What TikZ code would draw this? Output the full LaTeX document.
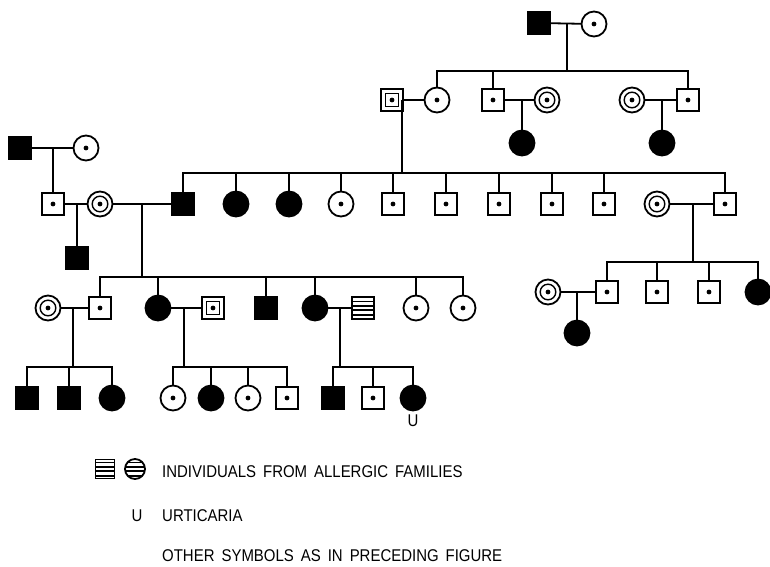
\documentclass[tikz,border=0pt]{standalone}
\usepackage{fontspec}
\setmainfont{Liberation Sans}
\newfontfamily\lett[FakeStretch=0.88]{Liberation Sans}
\begin{document}
\begin{tikzpicture}[x=1pt,y=-1pt,
  ln/.style={line width=1.8pt},
  base/.style={draw, line width=1.8pt, inner sep=0pt, outer sep=0pt},
  msq/.style={base, rectangle, minimum size=22pt},
  fsq/.style={msq, fill=black},
  fci/.style={base, circle, minimum size=25pt, fill=black},
  dsq/.style={msq, path picture={\fill (path picture bounding box.center) circle (2.4pt);}},
  dci/.style={base, circle, minimum size=25pt, path picture={\fill (path picture bounding box.center) circle (2.4pt);}},
  dbl/.style={base, circle, minimum size=25pt, path picture={
      \draw[line width=1.4pt] (path picture bounding box.center) circle (7.8pt);
      \fill (path picture bounding box.center) circle (2.4pt);}},
  sqsq/.style={msq, path picture={
      \draw[line width=1.5pt] ([shift={(-6.5pt,-6.5pt)}]path picture bounding box.center) rectangle ([shift={(6.5pt,6.5pt)}]path picture bounding box.center);
      \fill (path picture bounding box.center) circle (2.4pt);}},
  strsq/.style={msq, path picture={
      \foreach \k in {-6.6,-2.2,2.2,6.6}{\draw[line width=1.8pt] ([shift={(-15pt,\k pt)}]path picture bounding box.center) -- ++(30pt,0pt);}}},
  strci/.style={base, circle, minimum size=19pt, path picture={
      \foreach \k in {-6.6,-2.2,2.2,6.6}{\draw[line width=1.8pt] ([shift={(-15pt,\k pt)}]path picture bounding box.center) -- ++(30pt,0pt);}}},
  txt/.style={font=\lett\fontsize{17}{17}\selectfont, inner sep=0pt},
  lbl/.style={txt, anchor=west}
]
\useasboundingbox (0,0) rectangle (770,566);

% Generation I (top right)
\node[fsq] (a1) at (539,23) {};
\node[dci] (a2) at (594,24) {};
\draw[ln] (a1) -- (a2);
\coordinate (a12) at (567,24);
\coordinate (ba) at (567,71);
\draw[ln] (a12) -- (ba);

% Generation II (top right)
\node[sqsq] (b1) at (392,100) {};
\node[dci] (b2) at (437,100) {};
\node[dsq] (b3) at (493,100) {};
\node[dbl] (b4) at (547,100) {};
\node[dbl] (b5) at (632,100) {};
\node[dsq] (b6) at (688,100) {};
\draw[ln] (b2.north) |- (ba) -| (b6.north);
\draw[ln] (b3.north) -- (b3.north |- ba);
\draw[ln] (b1) -- (b2);
\draw[ln] (b3) -- (b4);
\draw[ln] (b5) -- (b6);
\coordinate (b34) at (522,100);
\coordinate (b56) at (662,100);
\node[fci] (c34) at (522,143) {};
\node[fci] (c56) at (662,143) {};
\draw[ln] (b34) -- (c34);
\draw[ln] (b56) -- (c56);
\coordinate (b12) at (402,100);
\coordinate (bm) at (402,173);
\draw[ln] (b12) -- (bm);

% Left top
\node[fsq] (l1) at (20,148) {};
\node[dci] (l2) at (86,148) {};
\draw[ln] (l1) -- (l2);
\coordinate (l12) at (53,148);
\node[dsq] (l3) at (53,204) {};
\draw[ln] (l12) -- (l3);
\node[dbl] (l4) at (100,204) {};
\draw[ln] (l3) -- (l4);
\coordinate (l34) at (77,204);
\node[fsq] (l5) at (77,258) {};
\draw[ln] (l34) -- (l5);

% Generation III sibship
\node[fsq] (m1) at (183,204) {};
\node[fci] (m2) at (236,204) {};
\node[fci] (m3) at (289,204) {};
\node[dci] (m4) at (341,204) {};
\node[dsq] (m5) at (393,204) {};
\node[dsq] (m6) at (446,204) {};
\node[dsq] (m7) at (499,204) {};
\node[dsq] (m8) at (552,204) {};
\node[dsq] (m9) at (604,204) {};
\node[dbl] (r1) at (657,204) {};
\node[dsq] (r2) at (725,204) {};
\draw[ln] (m1.north) |- (bm) -| (r2.north);
\foreach \n in {m2,m3,m4,m5,m6,m7,m8,m9}{\draw[ln] (\n.north) -- (\n.north |- bm);}
\draw[ln] (l4) -- (m1);
\draw[ln] (r1) -- (r2);

% Right branch
\coordinate (r12) at (693,204);
\coordinate (rb) at (693,262);
\draw[ln] (r12) -- (rb);
\node[dbl] (s0) at (548,292) {};
\node[dsq] (s1) at (607,292) {};
\node[dsq] (s2) at (657,292) {};
\node[dsq] (s3) at (709,292) {};
\node[fci] (s4) at (758,292) {};
\draw[ln] (s1.north) |- (rb) -| (s4.north);
\draw[ln] (s2.north) -- (s2.north |- rb);
\draw[ln] (s3.north) -- (s3.north |- rb);
\draw[ln] (s0) -- (s1);
\coordinate (s01) at (577,292);
\node[fci] (s5) at (577,333) {};
\draw[ln] (s01) -- (s5);

% Left branch Generation IV
\coordinate (l4m) at (142,204);
\coordinate (pb) at (142,277);
\draw[ln] (l4m) -- (pb);
\node[dbl] (p1) at (48,308) {};
\node[dsq] (p2) at (100,308) {};
\node[fci] (p3) at (158,308) {};
\node[sqsq] (p4) at (213,308) {};
\node[fsq] (p5) at (266,308) {};
\node[fci] (p6) at (315,308) {};
\node[strsq] (p7) at (363,308) {};
\node[dci] (p8) at (416,308) {};
\node[dci] (p9) at (463,308) {};
\draw[ln] (p2.north) |- (pb) -| (p9.north);
\foreach \n in {p3,p5,p6,p8}{\draw[ln] (\n.north) -- (\n.north |- pb);}
\draw[ln] (p1) -- (p2);
\draw[ln] (p3) -- (p4);
\draw[ln] (p6) -- (p7);

% Generation V
\coordinate (p12) at (73,308);
\coordinate (q1b) at (73,367);
\draw[ln] (p12) -- (q1b);
\node[fsq] (q1) at (27,398) {};
\node[fsq] (q2) at (69,398) {};
\node[fci] (q3) at (112,398) {};
\draw[ln] (q1.north) |- (q1b) -| (q3.north);
\draw[ln] (q2.north) -- (q2.north |- q1b);

\coordinate (p34) at (184,308);
\coordinate (q2b) at (184,367);
\draw[ln] (p34) -- (q2b);
\node[dci] (q4) at (173,398) {};
\node[fci] (q5) at (211,398) {};
\node[dci] (q6) at (248,398) {};
\node[dsq] (q7) at (287,398) {};
\draw[ln] (q4.north) |- (q2b) -| (q7.north);
\draw[ln] (q5.north) -- (q5.north |- q2b);
\draw[ln] (q6.north) -- (q6.north |- q2b);

\coordinate (p67) at (340,308);
\coordinate (q3b) at (340,367);
\draw[ln] (p67) -- (q3b);
\node[fsq] (q8) at (333,398) {};
\node[dsq] (q9) at (373,398) {};
\node[fci] (q10) at (413,398) {};
\draw[ln] (q8.north) |- (q3b) -| (q10.north);
\draw[ln] (q9.north) -- (q9.north |- q3b);
\node[txt] (u) at (413,421) {U};

% Legend
\node[strsq, minimum size=19pt] (k1) at (105,469) {};
\node[strci, minimum size=20pt] (k2) at (135,469) {};
\node[lbl] (t1) at (162,472) {INDIVIDUALS\, FROM\, ALLERGIC\, FAMILIES};
\node[txt] (ku) at (137,516) {U};
\node[lbl] (t2) at (162,516) {URTICARIA};
\node[lbl] (t3) at (162,556) {OTHER\ \,SYMBOLS\ \,AS\ \,IN\ \,PRECEDING\ \,FIGURE};
\end{tikzpicture}
\end{document}
